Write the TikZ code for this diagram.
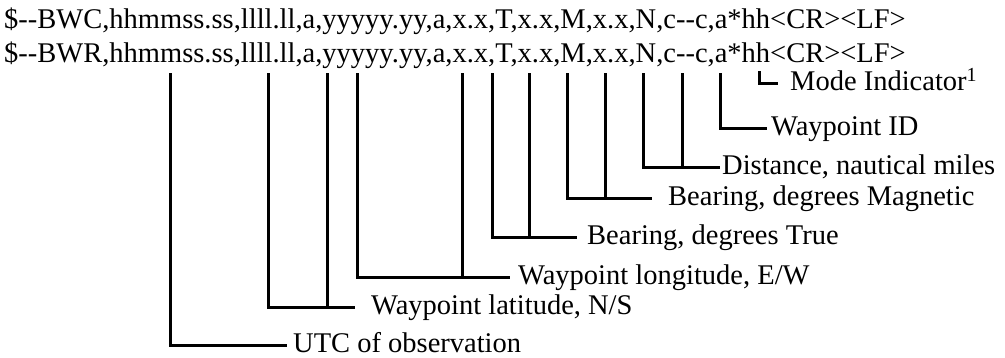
\documentclass[tikz,border=0pt]{standalone}
\usepackage{fontspec}
\setmainfont{Liberation Serif}
\begin{document}
\begin{tikzpicture}[x=1pt,y=-1pt,
  conn/.style={line width=3pt, line join=miter},
  sentence/.style={anchor=base west, inner sep=0pt, font=\fontsize{28.5}{34}\selectfont},
  lbl/.style={anchor=base west, inner sep=0pt, font=\fontsize{28.5}{34}\selectfont}]
\useasboundingbox (0,0) rectangle (1005,357);
% sentences
\node[sentence] (s1) at (4,28) {\$-{}-BWC,hhmmss.ss,llll.ll,a,yyyyy.yy,a,x.x,T,x.x,M,x.x,N,c-{}-c,a*hh<CR><LF>};
\node[sentence] (s2) at (4,62) {\$-{}-BWR,hhmmss.ss,llll.ll,a,yyyyy.yy,a,x.x,T,x.x,M,x.x,N,c-{}-c,a*hh<CR><LF>};
% field tops
\coordinate (fU)  at (170,73);
\coordinate (fLa) at (268,73);
\coordinate (fLb) at (327,73);
\coordinate (fOa) at (357,73);
\coordinate (fOb) at (462,73);
\coordinate (fTa) at (492,73);
\coordinate (fTb) at (529,73);
\coordinate (fMa) at (567,73);
\coordinate (fMb) at (605,73);
\coordinate (fDa) at (643,73);
\coordinate (fDb) at (682,73);
\coordinate (fW)  at (720,73);
\coordinate (fI)  at (759,71);
% line ends
\coordinate (eI) at (778,83);
\coordinate (eW) at (767,128);
\coordinate (eD) at (720,167);
\coordinate (eM) at (652,198);
\coordinate (eT) at (577,237);
\coordinate (eO) at (510,277);
\coordinate (eL) at (355,307);
\coordinate (eU) at (287,345);
% labels
\node[lbl] (tI) at (790,90.5) {Mode Indicator\textsuperscript{1}};
\node[lbl] (tW) at (771,135.5) {Waypoint ID};
\node[lbl] (tD) at (722,174.5) {Distance, nautical miles};
\node[lbl] (tM) at (668,205.5) {Bearing, degrees Magnetic};
\node[lbl] (tT) at (587,244.5) {Bearing, degrees True};
\node[lbl] (tO) at (518,284.5) {Waypoint longitude, E/W};
\node[lbl] (tL) at (371,314.5) {Waypoint latitude, N/S};
\node[lbl] (tU) at (293,352.5) {UTC of observation};
% connectors
\draw[conn] (fI) |- (eI);
\draw[conn] (fW) |- (eW);
\draw[conn] (fDa) |- (eD);
\draw[conn] (fDb) -- (fDb |- eD);
\draw[conn] (fMa) |- (eM);
\draw[conn] (fMb) -- (fMb |- eM);
\draw[conn] (fTa) |- (eT);
\draw[conn] (fTb) -- (fTb |- eT);
\draw[conn] (fOa) |- (eO);
\draw[conn] (fOb) -- (fOb |- eO);
\draw[conn] (fLa) |- (eL);
\draw[conn] (fLb) -- (fLb |- eL);
\draw[conn] (fU) |- (eU);
\end{tikzpicture}
\end{document}
